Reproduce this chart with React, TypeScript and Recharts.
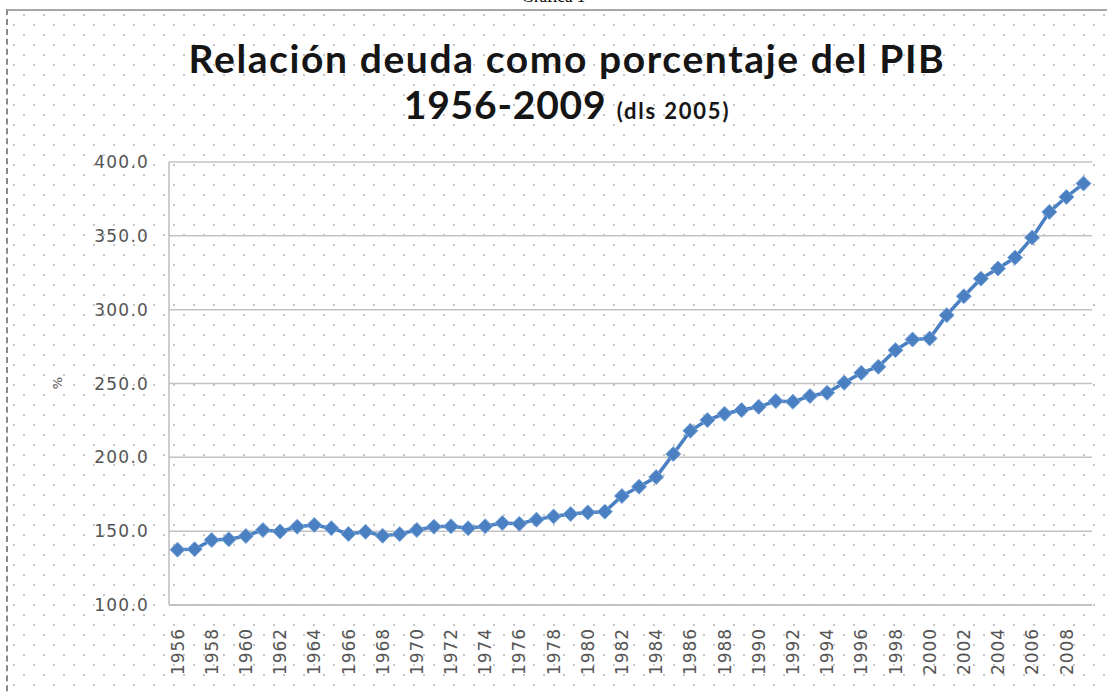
import React from 'react';
import { LineChart, Line, XAxis, YAxis, CartesianGrid } from 'recharts';

const years: string[] = [
  '1956', '1957', '1958', '1959', '1960', '1961', '1962', '1963', '1964', '1965',
  '1966', '1967', '1968', '1969', '1970', '1971', '1972', '1973', '1974', '1975',
  '1976', '1977', '1978', '1979', '1980', '1981', '1982', '1983', '1984', '1985',
  '1986', '1987', '1988', '1989', '1990', '1991', '1992', '1993', '1994', '1995',
  '1996', '1997', '1998', '1999', '2000', '2001', '2002', '2003', '2004', '2005',
  '2006', '2007', '2008', '2009',
];

const debtRatio: number[] = [
  137.5, 137.8, 144.0, 144.5, 146.7, 150.8, 149.8, 153.0, 154.2, 152.0,
  148.1, 149.6, 146.9, 148.0, 150.8, 153.0, 153.3, 152.0, 153.3, 155.5,
  155.0, 157.8, 160.0, 161.6, 162.7, 163.2, 173.8, 180.1, 186.6, 202.2,
  218.0, 225.2, 229.5, 232.0, 234.2, 238.1, 237.6, 241.5, 243.7, 250.5,
  257.2, 261.3, 272.6, 279.8, 280.5, 296.3, 309.1, 321.0, 327.9, 335.3,
  348.8, 366.2, 376.3, 385.4,
];

const yTicks: number[] = [100, 150, 200, 250, 300, 350, 400];

const data = years.map((y, i) => ({ year: y, value: debtRatio[i] }));

const Diamond = (props: any) => {
  const { cx, cy } = props;
  if (cx == null || cy == null) return null;
  const r = 7.5;
  return (
    <polygon
      points={`${cx},${cy - r} ${cx + r},${cy} ${cx},${cy + r} ${cx - r},${cy}`}
      fill="#4a80c2"
      stroke="#7aa5da"
      strokeWidth={1}
    />
  );
};

const XTick = (props: any) => {
  const { x, y, payload } = props;
  const ty = y + 23;
  return (
    <text
      x={x}
      y={ty}
      transform={`rotate(-90, ${x}, ${ty})`}
      textAnchor="end"
      dy="0.36em"
      fill="#555555"
      fontFamily="DejaVu Sans"
      fontSize={17}
      letterSpacing={0.9}
    >
      {payload.value}
    </text>
  );
};

const YTick = (props: any) => {
  const { x, y, payload } = props;
  return (
    <text
      x={x}
      y={y}
      textAnchor="end"
      dy="0.36em"
      fill="#555555"
      fontFamily="DejaVu Sans"
      fontSize={17}
      letterSpacing={1.2}
    >
      {Number(payload.value).toFixed(1)}
    </text>
  );
};

export default function App() {
  const dots =
    'radial-gradient(circle, #c4c4c4 1px, rgba(255,255,255,0) 1.3px), radial-gradient(circle, #c4c4c4 1px, rgba(255,255,255,0) 1.3px)';
  return (
    <div
      style={{
        position: 'absolute',
        left: 0,
        top: 0,
        width: 1107,
        height: 694,
        overflow: 'hidden',
        background: '#ffffff',
      }}
    >
      <div
        style={{
          position: 'absolute',
          left: 0,
          width: 1107,
          top: -12,
          textAlign: 'center',
          fontFamily: '"Liberation Serif", serif',
          fontSize: 17,
          lineHeight: '17px',
          color: '#000',
        }}
      >
        Gráfica 1
      </div>
      <div
        style={{
          position: 'absolute',
          left: 6,
          top: 9,
          width: 1120,
          height: 720,
          borderTop: '2px solid #a8a8a8',
          borderLeft: '2px dashed #8a8a8a',
          backgroundColor: '#ffffff',
          backgroundImage: dots,
          backgroundSize: '20px 20px, 20px 20px',
          backgroundPosition: '6px -6px, 16px 4px',
        }}
      />
      <div
        style={{
          position: 'absolute',
          left: 0,
          width: 1134,
          top: 35,
          textAlign: 'center',
          fontFamily: 'Lato, sans-serif',
          fontWeight: 700,
          color: '#151515',
          fontSize: 39,
          lineHeight: '46px',
          whiteSpace: 'nowrap',
        }}
      >
        <div style={{ letterSpacing: 1.6 }}>Relación deuda como porcentaje del PIB</div>
        <div style={{ letterSpacing: 0.8 }}>
          1956-2009{' '}
          <span style={{ fontSize: 22, letterSpacing: 1.8 }}>(dls 2005)</span>
        </div>
      </div>
      <div
        style={{
          position: 'absolute',
          left: 51,
          top: 376,
          width: 14,
          height: 14,
          transform: 'rotate(-90deg)',
          fontFamily: 'DejaVu Sans',
          fontSize: 13,
          lineHeight: '14px',
          color: '#595959',
          textAlign: 'center',
        }}
      >
        %
      </div>
      <div style={{ position: 'absolute', left: 0, top: 0 }}>
        <LineChart
          width={1107}
          height={694}
          data={data}
          margin={{ top: 162, right: 15, bottom: 9, left: 40 }}
        >
          <CartesianGrid vertical={false} stroke="#c3c3c3" strokeWidth={1.5} />
          <XAxis
            dataKey="year"
            interval={1}
            height={80}
            padding={{ left: 8.5, right: 8.5 }}
            tickSize={0}
            tickMargin={0}
            tick={<XTick />}
            axisLine={{ stroke: '#bdbdbd', strokeWidth: 1.5 }}
            tickLine={false}
          />
          <YAxis
            type="number"
            domain={[100, 400]}
            ticks={yTicks}
            width={129}
            tickSize={0}
            tickMargin={20}
            tick={<YTick />}
            axisLine={{ stroke: '#bdbdbd', strokeWidth: 1.5 }}
            tickLine={false}
            allowDataOverflow
          />
          <Line
            type="linear"
            dataKey="value"
            stroke="#4a80c2"
            strokeWidth={3.5}
            dot={<Diamond />}
            activeDot={false}
            isAnimationActive={false}
          />
        </LineChart>
      </div>
    </div>
  );
}
